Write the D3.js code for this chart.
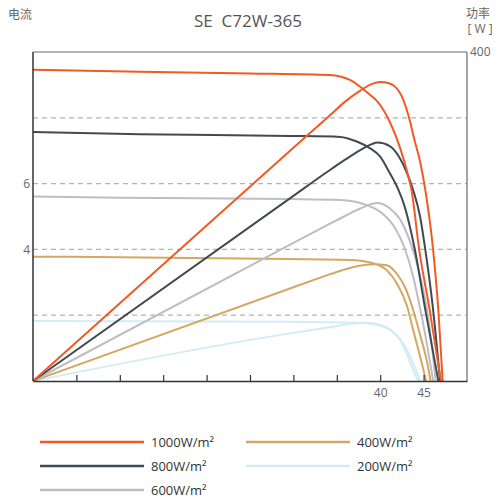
<!DOCTYPE html>
<head>
	<meta charset="UTF-8">
	<script src="https://d3js.org/d3.v7.min.js"></script>
	<title>SE C72W-365</title>
<style>
	body{
		margin: 0;
		background-color: #fff;
	}
	svg{
		display: block;
		font-family: 'Open Sans', sans-serif;
	}
</style>
</head>

<body>
	<svg width=497 height=501></svg>
</body>

<script>
	// Irradiance series
	var names = ["200W/m²", "400W/m²", "600W/m²", "800W/m²", "1000W/m²"];
	var colors = ["#d3ebf7", "#d3a863", "#bebec2", "#3e4b54", "#f15a24"];

	// I-V curves (voltage, current)
	var iv200V = [0, 29.6, 37.3, 39.7, 41.1, 42.3, 43.2, 43.8, 44.4];
	var iv200I = [1.82, 1.80, 1.77, 1.70, 1.55, 1.25, 0.74, 0.33, 0];
	var iv400V = [0, 29.6, 36.5, 39.2, 40.75, 41.9, 43.1, 43.8, 44.6, 45.3];
	var iv400I = [3.78, 3.71, 3.68, 3.58, 3.37, 2.97, 2.27, 1.55, 0.74, 0];
	var iv600V = [0, 9.9, 29.6, 35.4, 38.4, 40.3, 41.7, 42.8, 43.8, 44.4, 45.3, 46.1];
	var iv600I = [5.61, 5.57, 5.53, 5.50, 5.35, 5.08, 4.65, 4.05, 3.17, 2.46, 1.25, 0];
	var iv800V = [0, 12.3, 29.6, 35.4, 37.3, 38.8, 40.0, 41.1, 42.1, 42.7, 44.0, 45.2, 46.7];
	var iv800I = [7.57, 7.50, 7.45, 7.42, 7.28, 7.08, 6.82, 6.32, 5.81, 5.40, 3.98, 2.16, 0];
	var iv1000V = [0, 12.3, 25.0, 34.2, 36.5, 38.4, 40.0, 41.1, 42.3, 43.2, 43.6, 44.5, 45.7, 47.0];
	var iv1000I = [9.46, 9.40, 9.35, 9.30, 9.15, 8.79, 8.39, 7.88, 7.08, 6.26, 5.81, 3.98, 2.16, 0];

	// P-V curves (voltage, power)
	var pv200V = [0, 29.6, 33.4, 36.5, 38.4, 40.0, 41.5, 42.9, 43.8, 44.6];
	var pv200P = [0, 57.9, 64.0, 69.3, 70.9, 68.1, 59.9, 41.6, 21.5, 0];
	var pv400V = [0, 30, 34, 35.6, 36.95, 38.2, 39.2, 40.75, 41.9, 42.9, 43.8, 44.6, 45.4, 45.8];
	var pv400P = [0, 114, 129, 134.6, 138.6, 141, 141.8, 140.6, 130.5, 113.1, 86.4, 55.9, 23.1, 0];
	var pv600V = [0, 30, 34, 36.1, 37.7, 38.9, 39.6, 41.1, 42.3, 43.2, 44.0, 44.8, 45.4, 46.4];
	var pv600P = [0, 168, 190, 201.5, 209.7, 214.7, 216.3, 210.0, 196.5, 176.2, 151.8, 118.6, 86.3, 0];
	var pv800V = [0, 30, 34, 36.1, 37.75, 38.95, 39.7, 41.1, 42.2, 43.0, 43.8, 44.6, 45.2, 46.1, 46.9];
	var pv800P = [0, 225, 255, 270, 281, 287.7, 289.9, 285.5, 272, 255, 232, 199.7, 159.3, 86.3, 0];
	var pv1000V = [0, 30, 34, 36, 37.7, 39.0, 40.0, 41.0, 41.8, 42.4, 42.9, 43.4, 43.9, 44.6, 45.2, 46.1, 46.7, 47.2];
	var pv1000P = [0, 283.5, 321, 340, 353, 361, 363.4, 362, 357, 348, 335, 317, 295, 266.6, 232, 159, 86, 0];

	// Axis ticks
	var xTicks = [5, 10, 15, 20, 25, 30, 35, 40, 45];
	var xLabels = [40, 45];
	var iGrid = [2, 4, 6, 8];
	var iLabels = [4, 6];
	var pLabels = [400];

	var ivV = [iv200V, iv400V, iv600V, iv800V, iv1000V];
	var ivI = [iv200I, iv400I, iv600I, iv800I, iv1000I];
	var pvV = [pv200V, pv400V, pv600V, pv800V, pv1000V];
	var pvP = [pv200P, pv400P, pv600P, pv800P, pv1000P];

	var svg = d3.select("svg");
	var plotL = 33, plotR = 467, plotT = 52, plotB = 381;

	var x = d3.scaleLinear().domain([0, 50]).range([plotL, plotR]);
	var yI = d3.scaleLinear().domain([0, 10]).range([plotB, plotT]);
	var yP = d3.scaleLinear().domain([0, 400]).range([plotB, plotT]);

	var gray1 = "#666";

	// Dashed grid
	svg.append("g")
		.selectAll("line")
		.data(iGrid).enter()
		.append("line")
		.attr("x1", plotL)
		.attr("x2", plotR)
		.attr("y1", d => yI(d))
		.attr("y2", d => yI(d))
		.attr("stroke", "#b3b3b3")
		.attr("stroke-width", 1.2)
		.attr("stroke-dasharray", "5,4");

	// Curves
	var lineIV = d3.line().x(d => x(d[0])).y(d => yI(d[1])).curve(d3.curveMonotoneX);
	var linePV = d3.line().x(d => x(d[0])).y(d => yP(d[1])).curve(d3.curveMonotoneX);

	var curves = svg.append("g").attr("fill", "none").attr("stroke-width", 2);
	for(var k = 0; k < names.length; k++){
		var ivPts = ivV[k].map((v, i) => [v, ivI[k][i]]);
		var pvPts = pvV[k].map((v, i) => [v, pvP[k][i]]);
		curves.append("path").attr("d", lineIV(ivPts)).attr("stroke", colors[k]);
		curves.append("path").attr("d", linePV(pvPts)).attr("stroke", colors[k]);
	}

	// Frame
	svg.append("line").attr("x1", plotL).attr("x2", plotR).attr("y1", plotT).attr("y2", plotT)
		.attr("stroke", "#6a6a6a").attr("stroke-width", 1.2);
	svg.append("line").attr("x1", plotR).attr("x2", plotR).attr("y1", plotT).attr("y2", plotB)
		.attr("stroke", "#6a6a6a").attr("stroke-width", 1.2);
	svg.append("line").attr("x1", plotL).attr("x2", plotL).attr("y1", plotT).attr("y2", plotB)
		.attr("stroke", "#333").attr("stroke-width", 1.5);

	// Bottom axis
	var xAxis = svg.append("g")
		.attr("transform", "translate(0," + plotB + ")")
		.call(d3.axisBottom(x).tickValues(xTicks).tickSizeInner(-6).tickSizeOuter(0).tickPadding(7)
			.tickFormat(d => xLabels.indexOf(d) >= 0 ? d : ""));
	xAxis.select(".domain").attr("stroke", "#333").attr("stroke-width", 1.5);
	xAxis.selectAll(".tick line").attr("stroke", "#333").attr("stroke-width", 1.2);
	xAxis.selectAll("text").attr("fill", gray1).attr("font-size", 12).attr("font-family", "Open Sans");

	// Left axis labels
	var yAxis = svg.append("g")
		.attr("transform", "translate(" + plotL + ",0)")
		.call(d3.axisLeft(yI).tickValues(iLabels).tickSize(0).tickPadding(3));
	yAxis.select(".domain").remove();
	yAxis.selectAll("text").attr("fill", gray1).attr("font-size", 12).attr("font-family", "Open Sans");

	// Right axis labels
	var pAxis = svg.append("g")
		.attr("transform", "translate(" + plotR + ",0)")
		.call(d3.axisRight(yP).tickValues(pLabels).tickSize(0).tickPadding(3));
	pAxis.select(".domain").remove();
	pAxis.selectAll("text").attr("fill", gray1).attr("font-size", 12).attr("font-family", "Open Sans");

	// Titles
	svg.append("text")
		.attr("x", 248).attr("y", 27)
		.attr("text-anchor", "middle")
		.attr("fill", "#555")
		.attr("font-size", 17)
		.style("white-space", "pre")
		.text("SE  C72W-365");
	svg.append("text")
		.attr("x", 8).attr("y", 19)
		.attr("fill", gray1)
		.attr("font-size", 12)
		.attr("font-family", "Noto Sans CJK SC")
		.text("电流");
	svg.append("text")
		.attr("x", 466).attr("y", 18)
		.attr("fill", gray1)
		.attr("font-size", 12)
		.attr("font-family", "Noto Sans CJK SC")
		.text("功率");
	svg.append("text")
		.attr("x", 480).attr("y", 33)
		.attr("text-anchor", "middle")
		.attr("fill", gray1)
		.attr("font-size", 12)
		.style("white-space", "pre")
		.text("[ W ]");

	// Legend
	var legendOrder = [4, 1, 3, 0, 2];
	var legend = svg.append("g");
	legendOrder.forEach(function(k, i){
		var col = i % 2, row = Math.floor(i / 2);
		var lx = col == 0 ? 40 : 246;
		var ly = 442 + row * 24;
		legend.append("line")
			.attr("x1", lx).attr("x2", lx + 104)
			.attr("y1", ly).attr("y2", ly)
			.attr("stroke", colors[k])
			.attr("stroke-width", 2.5);
		legend.append("text")
			.attr("x", lx + 111).attr("y", ly)
			.attr("dominant-baseline", "central")
			.attr("fill", "#333")
			.attr("font-size", 13)
			.text(names[k]);
	});
</script>
